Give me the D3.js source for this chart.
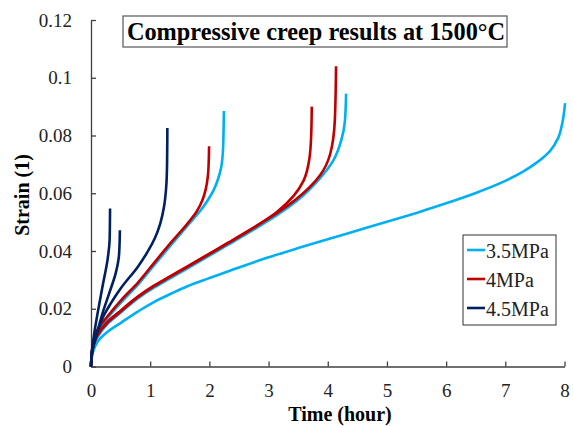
<!DOCTYPE html>
<html>
<head>
<meta charset="utf-8">
<script src="https://cdn.jsdelivr.net/npm/d3@7"></script>
<style>
  body { margin: 0; background: #fff; }
  text { font-family: "Liberation Serif", "Times New Roman", serif; }
</style>
</head>
<body>
<svg id="chart" width="573" height="426"></svg>
<script>
// data: [time (hour), strain]
const run35a = [[0,0],[0.02,0.004],[0.05,0.006],[0.11,0.0085],[0.28,0.012],[0.51,0.0152],[0.79,0.019],[1.07,0.0224],[1.35,0.0252],[1.63,0.0278],[2.0,0.0306],[2.5,0.0343],[3.0,0.0378],[3.5,0.041],[4.0,0.0441],[4.5,0.0471],[5.0,0.0501],[5.5,0.0532],[6.0,0.0565],[6.5,0.0601],[7.0,0.0643],[7.3,0.0675],[7.53,0.0706],[7.75,0.0745],[7.89,0.079],[7.96,0.084],[8.01,0.0912]];
const run35b = [[0,0],[0.02,0.005],[0.05,0.0075],[0.11,0.0102],[0.28,0.0148],[0.51,0.0188],[0.79,0.0236],[1.07,0.0274],[1.35,0.0307],[1.63,0.034],[2.0,0.0384],[2.31,0.0421],[2.74,0.0473],[3.14,0.0524],[3.47,0.0572],[3.87,0.0652],[4.09,0.0712],[4.23,0.0785],[4.29,0.085],[4.31,0.0945]];
const run35c = [[0,0],[0.02,0.0055],[0.05,0.0085],[0.11,0.012],[0.28,0.0168],[0.51,0.0222],[0.79,0.0283],[1.07,0.0352],[1.35,0.042],[1.63,0.0488],[1.85,0.054],[1.97,0.0575],[2.07,0.061],[2.14,0.0645],[2.2,0.069],[2.23,0.075],[2.24,0.082],[2.245,0.0885]];
const run40a = [[0,0],[0.02,0.0055],[0.05,0.008],[0.11,0.011],[0.28,0.0155],[0.51,0.0195],[0.79,0.0242],[1.07,0.0281],[1.35,0.0314],[1.63,0.0347],[2.0,0.0391],[2.31,0.0428],[2.74,0.048],[3.14,0.0531],[3.47,0.058],[3.87,0.0662],[4.04,0.0735],[4.12,0.0854],[4.14,0.104]];
const run40b = [[0,0],[0.02,0.005],[0.05,0.0078],[0.11,0.0108],[0.28,0.0152],[0.51,0.0192],[0.79,0.024],[1.07,0.0279],[1.35,0.0312],[1.63,0.0345],[2.0,0.0389],[2.31,0.0426],[2.74,0.0479],[3.14,0.0535],[3.42,0.059],[3.59,0.0643],[3.69,0.072],[3.72,0.08],[3.73,0.090]];
const run40c = [[0,0],[0.02,0.006],[0.05,0.009],[0.11,0.0128],[0.28,0.0174],[0.51,0.023],[0.79,0.029],[1.07,0.036],[1.35,0.0429],[1.63,0.0495],[1.78,0.0535],[1.88,0.0575],[1.94,0.0615],[1.975,0.066],[1.99,0.0715],[1.995,0.0763]];
const run45a = [[0,0],[0.02,0.006],[0.056,0.0116],[0.113,0.0186],[0.197,0.028],[0.28,0.037],[0.315,0.044],[0.32,0.050],[0.322,0.0547]];
const run45b = [[0,0],[0.03,0.006],[0.085,0.0104],[0.197,0.0186],[0.31,0.0255],[0.42,0.0325],[0.475,0.039],[0.488,0.0472]];
const run45c = [[0,0],[0.02,0.006],[0.05,0.009],[0.11,0.012],[0.2,0.017],[0.28,0.020],[0.4,0.024],[0.507,0.0272],[0.789,0.0345],[0.95,0.0395],[1.08,0.0445],[1.17,0.0495],[1.235,0.0555],[1.27,0.062],[1.285,0.07],[1.29,0.0826]];

const seriesNames = ["3.5MPa", "4MPa", "4.5MPa"];
const seriesColors = ["#00b0f0", "#c00000", "#002060"];
const seriesRuns = [[run35a, run35b, run35c], [run40a, run40b, run40c], [run45a, run45b, run45c]];
const xTicks = [0, 1, 2, 3, 4, 5, 6, 7, 8];
const yTicks = [0, 0.02, 0.04, 0.06, 0.08, 0.1, 0.12];

const svg = d3.select("#chart");
const x = d3.scaleLinear().domain([0, 8]).range([91, 564.5]);
const y = d3.scaleLinear().domain([0, 0.12]).range([366.5, 20]);

// axes (ticks point inward)
const xAxis = svg.append("g")
    .attr("transform", `translate(0,${y(0)})`)
    .call(d3.axisBottom(x).tickValues(xTicks).tickFormat(d3.format("d")).tickSizeInner(-5).tickSizeOuter(0).tickPadding(17));
const yAxis = svg.append("g")
    .attr("transform", `translate(${x(0)},0)`)
    .call(d3.axisLeft(y).tickValues(yTicks).tickFormat(d => d === 0 ? "0" : String(+d.toFixed(2))).tickSizeInner(-5).tickSizeOuter(0).tickPadding(19));

[xAxis, yAxis].forEach(a => {
    a.select(".domain").attr("stroke", "#404040").attr("stroke-width", 1.3);
    a.selectAll(".tick line").attr("stroke", "#404040").attr("stroke-width", 1.3);
    a.selectAll(".tick text")
        .style("font-family", "'Liberation Serif', serif")
        .style("font-size", "19px")
        .attr("fill", "#222");
});

// curves: strain rises monotonically, so interpolate along y
const line = d3.line()
    .x(d => x(d[0]))
    .y(d => y(d[1]))
    .curve(d3.curveMonotoneY);

seriesRuns.forEach((runs, i) => {
    svg.append("g").selectAll("path")
        .data(runs)
        .enter().append("path")
        .attr("d", line)
        .attr("fill", "none")
        .attr("stroke", seriesColors[i])
        .attr("stroke-width", 2.6);
});

// title box
svg.append("rect")
    .attr("x", 123).attr("y", 16)
    .attr("width", 384).attr("height", 31)
    .attr("fill", "#fff")
    .attr("stroke", "#555")
    .attr("stroke-width", 1.2);
svg.append("text")
    .attr("x", 316)
    .attr("y", 40)
    .attr("text-anchor", "middle")
    .attr("font-size", 24.3)
    .attr("font-weight", "bold")
    .attr("fill", "#000")
    .text("Compressive creep results at 1500°C");

// axis titles
svg.append("text")
    .attr("x", 340)
    .attr("y", 421)
    .attr("text-anchor", "middle")
    .attr("font-size", 20)
    .attr("font-weight", "bold")
    .text("Time (hour)");

svg.append("text")
    .attr("transform", "translate(29,195) rotate(-90)")
    .attr("text-anchor", "middle")
    .attr("font-size", 20)
    .attr("font-weight", "bold")
    .text("Strain (1)");

// legend
const legend = svg.append("g");
legend.append("rect")
    .attr("x", 463).attr("y", 235)
    .attr("width", 93).attr("height", 90)
    .attr("fill", "#fff")
    .attr("stroke", "#333")
    .attr("stroke-width", 1);

seriesNames.forEach((name, i) => {
    const cy = 250 + i * 29;
    legend.append("line")
        .attr("x1", 467).attr("x2", 485)
        .attr("y1", cy).attr("y2", cy)
        .attr("stroke", seriesColors[i])
        .attr("stroke-width", 2.6);
    legend.append("text")
        .attr("x", 486)
        .attr("y", cy + 8)
        .attr("font-size", 20)
        .attr("fill", "#222")
        .text(name);
});
</script>
</body>
</html>
